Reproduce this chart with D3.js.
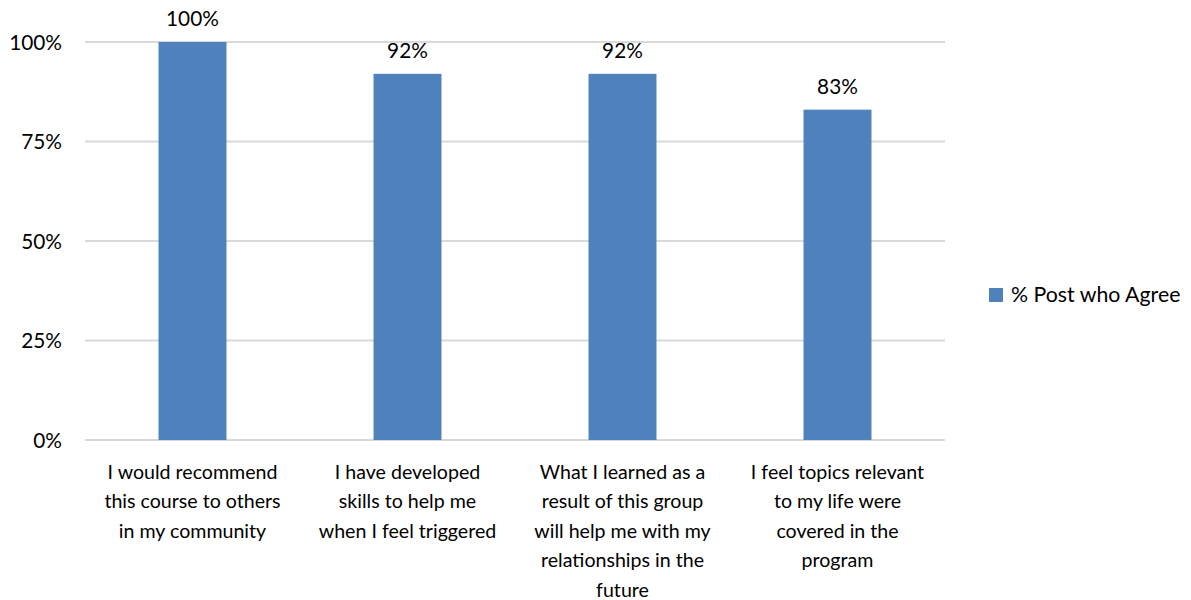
<!DOCTYPE html>
<html><head><meta charset="utf-8">
<script src="https://cdn.jsdelivr.net/npm/d3@7"></script>
<style>body{margin:0;background:#fff;} svg{display:block;} text{font-family:Lato,"Open Sans",sans-serif;fill:#000;}</style>
</head><body><svg id="c" width="1191" height="600"></svg>
<script>
const categories = [
  "I would recommend|this course to others|in my community",
  "I have developed|skills to help me|when I feel triggered",
  "What I learned as a|result of this group|will help me with my|relationships in the|future",
  "I feel topics relevant|to my life were|covered in the|program"
];
const values = [1.00, 0.92, 0.92, 0.83];
const seriesName = "% Post who Agree";
const yTicks = [0, 0.25, 0.5, 0.75, 1.0];

(function () {
const svg = d3.select("#c");
const pl = 85, pr = 945, pt = 42, pb = 440;
const x = d3.scaleBand().domain(categories).range([pl, pr]).paddingInner(0.684).paddingOuter(0.342);
const y = d3.scaleLinear().domain([0, 1]).range([pb, pt]);
const fsCat = 19.6, fsNum = 20.8, fsLeg = 21.3;

svg.append("g").selectAll("line").data(yTicks).join("line")
  .attr("x1", pl).attr("x2", pr)
  .attr("y1", d => y(d)).attr("y2", d => y(d))
  .attr("stroke", "#d9d9d9").attr("stroke-width", 2);

const yAxis = svg.append("g").attr("transform", `translate(${pl},0)`)
  .call(d3.axisLeft(y).tickValues(yTicks).tickFormat(d3.format(".0%")).tickSize(0).tickPadding(23));
yAxis.select(".domain").remove();
yAxis.selectAll("text").style("font-size", fsNum + "px").style("font-family", "Lato").attr("fill", "#000").attr("dy", "0.34em");

svg.append("g").selectAll("rect").data(values).join("rect")
  .attr("x", (d, i) => x(categories[i])).attr("width", x.bandwidth())
  .attr("y", d => y(d)).attr("height", d => pb - y(d))
  .attr("fill", "#4f81bd");

svg.append("g").selectAll("text").data(values).join("text")
  .attr("x", (d, i) => x(categories[i]) + x.bandwidth() / 2)
  .attr("y", d => y(d) - 16)
  .attr("text-anchor", "middle").style("font-size", fsNum + "px")
  .text(d => d3.format(".0%")(d));

const xl = svg.append("g");
categories.forEach(c => {
  const t = xl.append("text").attr("text-anchor", "middle").style("font-size", fsCat + "px");
  c.split("|").forEach((line, j) => {
    t.append("tspan").attr("x", x(c) + x.bandwidth() / 2).attr("y", 479 + j * 29.4).text(line);
  });
});

svg.append("rect").attr("x", 989).attr("y", 288).attr("width", 14).attr("height", 14).attr("fill", "#4f81bd");
svg.append("text").attr("x", 1011).attr("y", 302).style("font-size", fsLeg + "px").text(seriesName);
})();
</script></body></html>
